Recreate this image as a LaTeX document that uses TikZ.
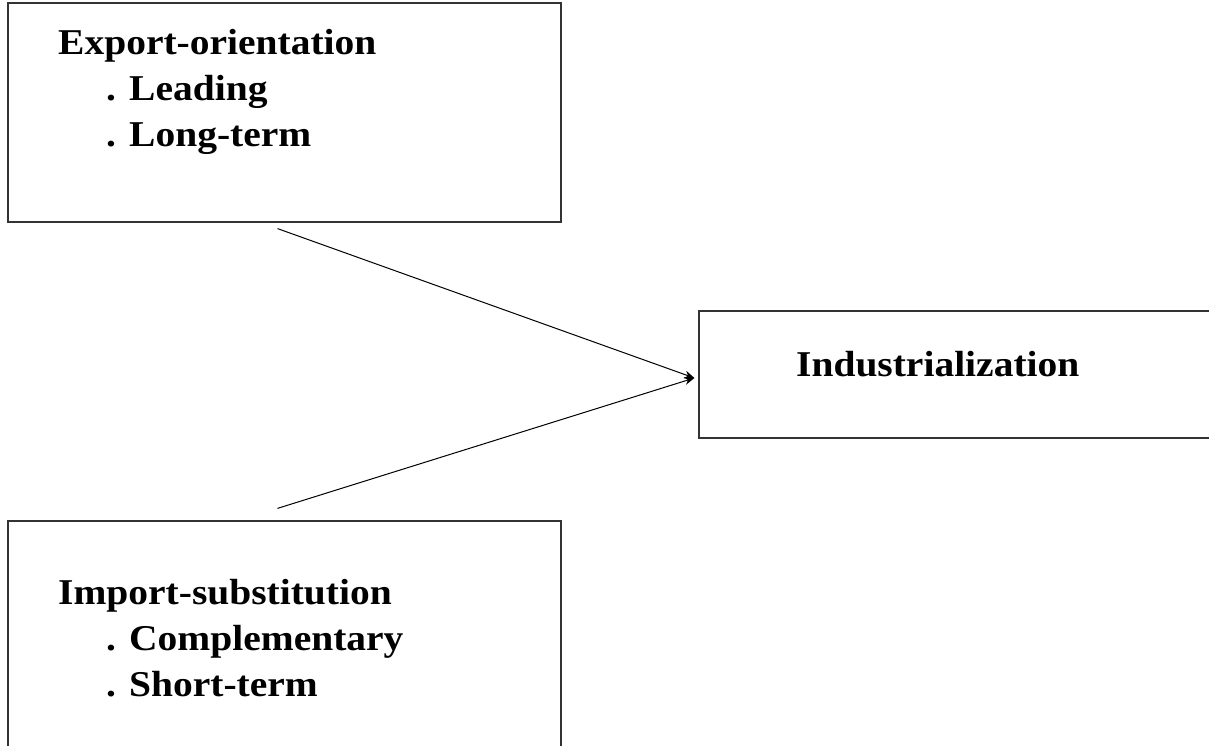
\documentclass[tikz,border=0pt]{standalone}
\usepackage{fontspec}
\setmainfont{Liberation Serif}
\usetikzlibrary{arrows.meta,calc}
\tikzstyle{block} = [rectangle, draw=black!80, line width=1.2pt, inner sep=0pt]
\tikzstyle{label} = [inner sep=0pt, anchor=base west, font=\bfseries\fontsize{39.5}{50}\selectfont]
\tikzstyle{connector} = [line width=1pt,-{Stealth[length=10pt,width=8pt]}]
\newcommand{\squat}[1]{\scalebox{1}[0.92]{\begin{tabular}[t]{@{}l@{}}#1\end{tabular}}}

\begin{document}
\begin{tikzpicture}[x=1pt,y=1pt]
            \useasboundingbox (0,0) rectangle (1209,746);
            \node (expbox) [block, minimum width=553pt, minimum height=219pt] at (284.5,633.5) {};
            \node (impbox) [block, minimum width=553pt, minimum height=231pt] at (284.5,109.5) {};
            \node (indbox) [block, minimum width=520pt, minimum height=127pt] at (959,371.5) {};
            \node (exptext) [label] at (58,691) {\squat{Export-orientation\\\hspace{48pt}. Leading\\\hspace{48pt}. Long-term}};
            \node (imptext) [label] at (58,141) {\squat{Import-substitution\\\hspace{48pt}. Complementary\\\hspace{48pt}. Short-term}};
            \node (indtext) [label] at (796,369) {\squat{Industrialization}};
            \coordinate (meet) at ($(indbox.west)+(-4,-3.5)$);
            \draw [connector] ($(expbox.south)+(-7,-6)$) -- (meet);
            \draw [connector] ($(impbox.north)+(-7,12)$) -- (meet);
        \end{tikzpicture}
\end{document}
